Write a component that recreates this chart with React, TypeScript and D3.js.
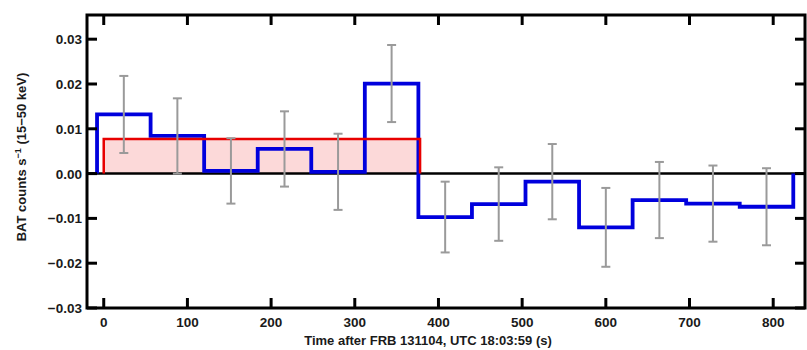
import * as d3 from 'd3';

// BAT light curve, 64 s bins
const binEdges = [-8, 56, 120, 184, 248, 312, 376, 440, 504, 568, 632, 696, 760, 824];
const rates = [0.0132, 0.0084, 0.0006, 0.0055, 0.0004, 0.0201, -0.0097, -0.0068, -0.0018, -0.012, -0.0059, -0.0067, -0.0074];
const errors = [0.0086, 0.0084, 0.0073, 0.0084, 0.0085, 0.0086, 0.0079, 0.0082, 0.0084, 0.0088, 0.0085, 0.0085, 0.0086];

// top-hat model
const modelStart = 0;
const modelEnd = 378;
const modelLevel = 0.0077;

const xTicks = [0, 100, 200, 300, 400, 500, 600, 700, 800];
const yTicks = [-0.03, -0.02, -0.01, 0, 0.01, 0.02, 0.03];

const W = 807;
const H = 350;
const margin = { top: 15, right: 2, bottom: 42, left: 87 };

export default function App() {
  const x = d3.scaleLinear().domain([-20, 838]).range([margin.left, W - margin.right]);
  const y = d3.scaleLinear().domain([-0.03, 0.0354]).range([H - margin.bottom, margin.top]);
  const x0 = x.range()[0];
  const x1 = x.range()[1];
  const yTop = y.range()[1];
  const yBot = y.range()[0];

  const stepPts: [number, number][] = [[binEdges[0], 0]];
  rates.forEach((r, i) => {
    stepPts.push([binEdges[i], r]);
    stepPts.push([binEdges[i + 1], r]);
  });
  stepPts.push([binEdges[binEdges.length - 1], 0]);
  const line = d3.line<[number, number]>().x((d) => x(d[0])).y((d) => y(d[1]));

  const modelPts: [number, number][] = [
    [modelStart, 0],
    [modelStart, modelLevel],
    [modelEnd, modelLevel],
    [modelEnd, 0],
  ];

  const font = { fontFamily: 'Liberation Sans, Arial, sans-serif', fontWeight: 700 as const };
  const tickLen = 10;
  const fmt = (v: number) => (v < 0 ? '\u2212' : '') + Math.abs(v).toFixed(2);

  return (
    <div style={{ position: 'absolute', left: 0, top: 0 }}>
      <svg width={W} height={H} style={{ display: 'block', background: '#fff' }}>
        {/* model fill */}
        <rect
          x={x(modelStart)}
          y={y(modelLevel)}
          width={x(modelEnd) - x(modelStart)}
          height={y(0) - y(modelLevel)}
          fill="#fcd9d9"
        />
        {/* zero line */}
        <line x1={x0} x2={x1} y1={y(0)} y2={y(0)} stroke="#000" strokeWidth={2.5} />
        {/* light curve */}
        <path d={line(stepPts) ?? ''} fill="none" stroke="#0000dd" strokeWidth={3.8} strokeLinejoin="miter" />
        {/* model outline */}
        <path d={line(modelPts) ?? ''} fill="none" stroke="#e80000" strokeWidth={2.5} />
        {/* error bars */}
        {rates.map((r, i) => {
          const cx = x((binEdges[i] + binEdges[i + 1]) / 2);
          const lo = y(r - errors[i]);
          const hi = y(r + errors[i]);
          return (
            <g key={i} stroke="#9a9a9a" strokeWidth={2}>
              <line x1={cx} x2={cx} y1={lo} y2={hi} />
              <line x1={cx - 4.5} x2={cx + 4.5} y1={lo} y2={lo} />
              <line x1={cx - 4.5} x2={cx + 4.5} y1={hi} y2={hi} />
            </g>
          );
        })}
        {/* ticks */}
        <g stroke="#000" strokeWidth={3}>
          {xTicks.map((t) => (
            <g key={t}>
              <line x1={x(t)} x2={x(t)} y1={yBot} y2={yBot - tickLen} />
              <line x1={x(t)} x2={x(t)} y1={yTop} y2={yTop + tickLen} />
            </g>
          ))}
          {yTicks.map((t) => (
            <g key={t}>
              <line x1={x0} x2={x0 + tickLen} y1={y(t)} y2={y(t)} />
              <line x1={x1} x2={x1 - tickLen} y1={y(t)} y2={y(t)} />
            </g>
          ))}
        </g>
        {/* frame */}
        <rect x={x0} y={yTop} width={x1 - x0} height={yBot - yTop} fill="none" stroke="#000" strokeWidth={3} />
        {/* tick labels */}
        {xTicks.map((t) => (
          <text key={t} x={x(t)} y={yBot + 19} textAnchor="middle" fontSize={13.5} {...font} fill="#1a1a1a">
            {t}
          </text>
        ))}
        {yTicks.map((t) => (
          <text key={t} x={x0 - 5} y={y(t) + 5} textAnchor="end" fontSize={13.5} {...font} fill="#1a1a1a">
            {fmt(t)}
          </text>
        ))}
        {/* axis titles */}
        <text x={428} y={H - 5} textAnchor="middle" fontSize={13} {...font} fill="#1a1a1a">
          Time after FRB 131104, UTC 18:03:59 (s)
        </text>
        <text
          transform={`translate(${26},${157}) rotate(-90)`}
          textAnchor="middle"
          fontSize={13}
          {...font}
          fill="#1a1a1a"
        >
          BAT counts s<tspan dy={-5} fontSize={9}>−1</tspan>
          <tspan dy={5}> (15−50 keV)</tspan>
        </text>
      </svg>
    </div>
  );
}
